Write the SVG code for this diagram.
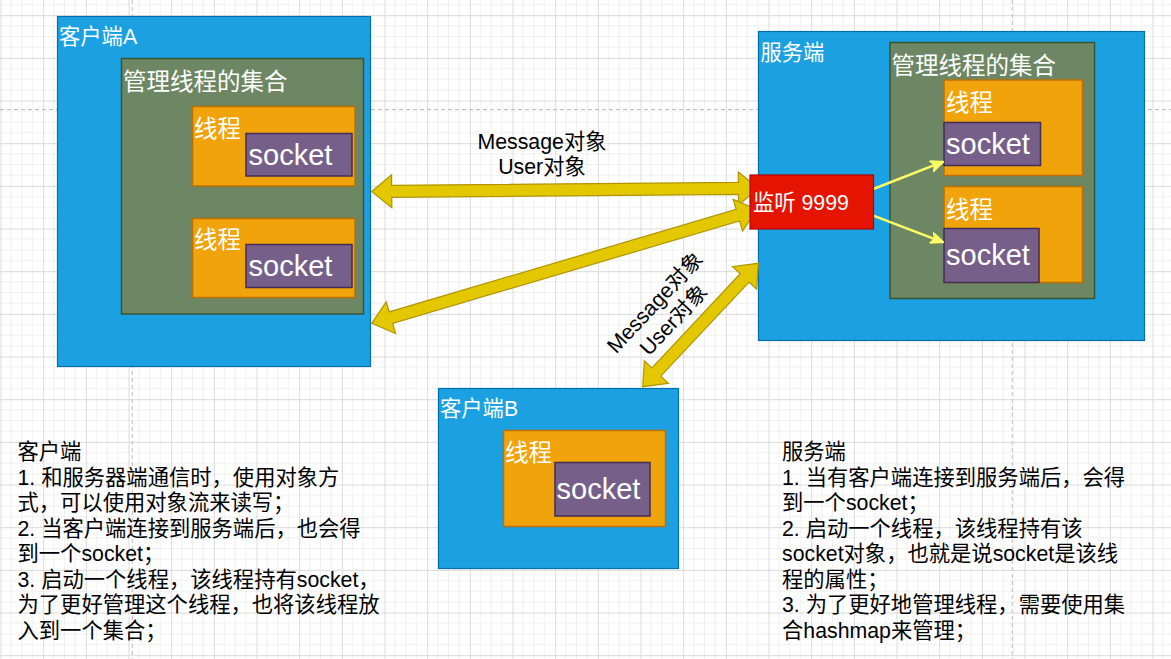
<svg xmlns="http://www.w3.org/2000/svg" width="1171" height="659" viewBox="0 0 1171 659">
<defs>
<style>
text { font-family: "Liberation Sans", "Noto Sans CJK SC", sans-serif; }
.blue { fill:#1ba1e2; stroke:#006eaf; stroke-width:1.2; }
.set { fill:#6d8764; stroke:#3a5431; stroke-width:1.5; }
.thread { fill:#f0a30a; stroke:#bd7000; stroke-width:1.5; }
.sock { fill:#76608a; stroke:#432d57; stroke-width:1.5; }
.listen { fill:#e51400; stroke:#b20000; stroke-width:1.2; }
.lbl { fill:#ffffff; font-size:21.3px; }
.lbl-set { fill:#ffffff; font-size:23.5px; }
.lbl-sock { fill:#ffffff; font-size:29px; }
.note { fill:#000000; font-size:21.3px; }
.flex { fill:#e3c800; stroke:#b09500; stroke-width:1.2; }
.thin { stroke:#ffff66; stroke-width:2.5; fill:none; marker-end:url(#ah); }
.elabel { fill:#000000; font-size:21.3px; text-anchor:middle; }
.page { stroke:#bdbdbd; stroke-width:1; stroke-dasharray:4 3; fill:none; }
</style>
<pattern id="grid" width="42.667" height="42.667" patternUnits="userSpaceOnUse" x="0.5" y="15.2">
<path d="M10.667 0V42.667M21.333 0V42.667M32 0V42.667M0 10.667H42.667M0 21.333H42.667M0 32H42.667" stroke="#f0f0f0" stroke-width="1" fill="none"/>
<path d="M0.5 0V42.667M0 0.5H42.667" stroke="#dadada" stroke-width="1" fill="none"/>
</pattern>
<marker id="ah" viewBox="0 0 14 12" refX="13" refY="6" markerWidth="14" markerHeight="12" markerUnits="userSpaceOnUse" orient="auto">
<path d="M0,0 L14,6 L0,12 L3.5,6 Z" fill="#ffff66" stroke="#ffff66" stroke-width="1"/>
</marker>
</defs>

<g id="background">
<rect x="0" y="0" width="1171" height="659" fill="#ffffff"/>
<rect x="0" y="0" width="1171" height="659" fill="url(#grid)"/>
<path class="page" d="M132.3 0V659M1012.3 0V659M0 109.5H1171"/>
</g>

<g id="clientA">
<rect class="blue" x="57.5" y="16.5" width="313" height="350"/>
<text class="lbl" x="59" y="44">客户端A</text>
<g id="clientA-set">
<rect class="set" x="121.5" y="58.5" width="242" height="255.5"/>
<text class="lbl-set" x="123" y="89.5">管理线程的集合</text>
</g>
<g id="clientA-thread1">
<rect class="thread" x="192.5" y="106.5" width="162.5" height="79.5"/>
<text class="lbl-set" x="194" y="136.5">线程</text>
<rect class="sock" x="246" y="133.5" width="106" height="42.5"/>
<text class="lbl-sock" x="248.5" y="165">socket</text>
</g>
<g id="clientA-thread2">
<rect class="thread" x="192.5" y="218.5" width="162.5" height="79"/>
<text class="lbl-set" x="194" y="247.5">线程</text>
<rect class="sock" x="246" y="244.5" width="106" height="43"/>
<text class="lbl-sock" x="248.5" y="275.5">socket</text>
</g>
</g>

<g id="clientB">
<rect class="blue" x="438.5" y="388.5" width="240" height="180"/>
<text class="lbl" x="440" y="415.5">客户端B</text>
<g id="clientB-thread">
<rect class="thread" x="503.5" y="430.5" width="162" height="96"/>
<text class="lbl-set" x="505" y="461">线程</text>
<rect class="sock" x="555" y="462.5" width="95" height="53.5"/>
<text class="lbl-sock" x="556.5" y="498.5">socket</text>
</g>
</g>

<g id="server">
<rect class="blue" x="758.5" y="31.5" width="386" height="309"/>
<text class="lbl" x="760.5" y="59.5">服务端</text>
<g id="server-set">
<rect class="set" x="890" y="42.5" width="204.5" height="256"/>
<text class="lbl-set" x="891.5" y="73.5">管理线程的集合</text>
</g>
<g id="server-thread1">
<rect class="thread" x="944" y="80" width="138.5" height="95.5"/>
<text class="lbl-set" x="946" y="110.5">线程</text>
<rect class="sock" x="944" y="122.5" width="96.5" height="43"/>
<text class="lbl-sock" x="946" y="153.5">socket</text>
</g>
<g id="server-thread2">
<rect class="thread" x="944" y="186.5" width="138.5" height="96"/>
<text class="lbl-set" x="946" y="217.5">线程</text>
<rect class="sock" x="944" y="228.5" width="95" height="54"/>
<text class="lbl-sock" x="946" y="264.5">socket</text>
</g>
</g>

<g id="connectors">
<polygon class="flex" transform="translate(371.7,191.5) rotate(-0.474)" points="0,0 20,-16.5 20,-6 366.8,-6 366.8,-16.5 386.8,0 366.8,16.5 366.8,6 20,6 20,16.5"/>
<polygon class="flex" transform="translate(371.7,323.3) rotate(-16.45)" points="0,0 20,-16.5 20,-6 381.75,-6 381.75,-16.5 401.75,0 381.75,16.5 381.75,6 20,6 20,16.5"/>
<polygon class="flex" transform="translate(642.7,386.7) rotate(-46.87)" points="0,0 20,-16.5 20,-6 149.1,-6 149.1,-16.5 169.1,0 149.1,16.5 149.1,6 20,6 20,16.5"/>
<text class="elabel"><tspan x="542" y="149.3">Message对象</tspan><tspan x="542" y="174.3">User对象</tspan></text>
<text class="elabel" transform="translate(664,311) rotate(-47)"><tspan x="0" y="-5.25">Message对象</tspan><tspan x="0" y="20.25">User对象</tspan></text>
<line class="thin" x1="873.3" y1="189" x2="943.3" y2="161.7"/>
<line class="thin" x1="873.3" y1="215.7" x2="943.3" y2="242.3"/>
</g>

<g id="listen">
<rect class="listen" x="750" y="175" width="123.5" height="54"/>
<text class="lbl" x="753" y="210">监听 9999</text>
</g>

<g id="note-client">
<text class="note">
<tspan x="17.5" y="459">客户端</tspan>
<tspan x="17.5" y="484.5">1. 和服务器端通信时，使用对象方</tspan>
<tspan x="17.5" y="510">式，可以使用对象流来读写；</tspan>
<tspan x="17.5" y="535.5">2. 当客户端连接到服务端后，也会得</tspan>
<tspan x="17.5" y="561">到一个socket；</tspan>
<tspan x="17.5" y="586.5">3. 启动一个线程，该线程持有socket，</tspan>
<tspan x="17.5" y="612">为了更好管理这个线程，也将该线程放</tspan>
<tspan x="17.5" y="637.5">入到一个集合；</tspan>
</text>
</g>

<g id="note-server">
<text class="note">
<tspan x="782" y="459">服务端</tspan>
<tspan x="782" y="484.5">1. 当有客户端连接到服务端后，会得</tspan>
<tspan x="782" y="510">到一个socket；</tspan>
<tspan x="782" y="535.5">2. 启动一个线程，该线程持有该</tspan>
<tspan x="782" y="561">socket对象，也就是说socket是该线</tspan>
<tspan x="782" y="586.5">程的属性；</tspan>
<tspan x="782" y="612">3. 为了更好地管理线程，需要使用集</tspan>
<tspan x="782" y="637.5">合hashmap来管理；</tspan>
</text>
</g>
</svg>
